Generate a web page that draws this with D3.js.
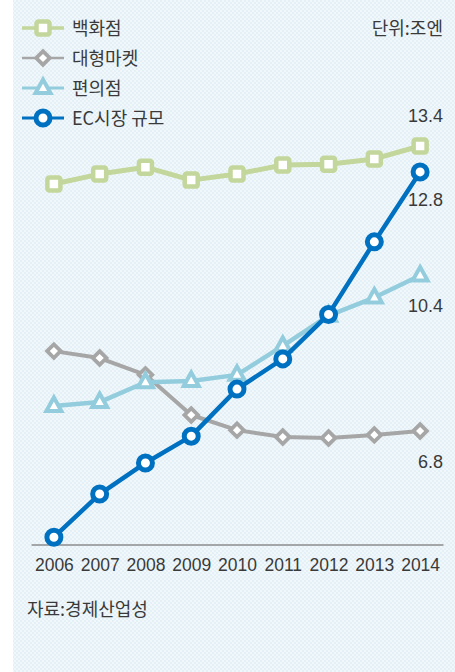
<!DOCTYPE html>
<html>
<head>
<meta charset="utf-8">
<script src="https://cdn.jsdelivr.net/npm/d3@7"></script>
<style>
  body { margin: 0; background: #fff; }
  text { font-family: "Noto Sans CJK KR", sans-serif; fill: #3a3a3a; }
  .num { font-family: "Liberation Sans", Arial, sans-serif; }
</style>
</head>
<body>
<div id="chart"></div>
<script>
// Data (조엔)
var years      = ['2006', '2007', '2008', '2009', '2010', '2011', '2012', '2013', '2014'];
var dept       = [12.52, 12.75, 12.91, 12.61, 12.75, 12.96, 12.98, 13.10, 13.4];
var mart       = [8.65, 8.49, 8.10, 7.17, 6.82, 6.66, 6.64, 6.71, 6.8];
var conv       = [7.38, 7.47, 7.93, 7.96, 8.10, 8.77, 9.47, 9.89, 10.4];
var ec         = [4.34, 5.34, 6.06, 6.68, 7.77, 8.47, 9.50, 11.18, 12.8];
var names      = ['백화점', '대형마켓', '편의점', 'EC시장 규모'];
var end_labels = ['13.4', '6.8', '10.4', '12.8'];

var chart_width  = 455;
var chart_height = 672;

var series = [
	{ name: names[0], values: dept, color: '#c3d69b', width: 5,   shape: 'square',   label: end_labels[0], ly: 122 },
	{ name: names[1], values: mart, color: '#a6a6a6', width: 4,   shape: 'diamond',  label: end_labels[1], ly: 468 },
	{ name: names[2], values: conv, color: '#93cddd', width: 4.5, shape: 'triangle', label: end_labels[2], ly: 312 },
	{ name: names[3], values: ec,   color: '#0070c0', width: 4.5, shape: 'circle',   label: end_labels[3], ly: 206 }
];

var svg = d3.select('#chart')
		.append('svg')
		.attr('width', chart_width)
		.attr('height', chart_height);

// background pattern
var pat = svg.append('defs')
		.append('pattern')
		.attr('id', 'bg')
		.attr('width', 4)
		.attr('height', 4)
		.attr('patternUnits', 'userSpaceOnUse');
pat.append('rect').attr('width', 4).attr('height', 4).attr('fill', '#f1f8fb');
pat.append('rect').attr('width', 2).attr('height', 2).attr('fill', '#e4f0f6');
pat.append('rect').attr('x', 2).attr('y', 2).attr('width', 2).attr('height', 2).attr('fill', '#e4f0f6');

svg.append('rect')
		.attr('x', 13)
		.attr('y', 0)
		.attr('width', chart_width - 13)
		.attr('height', chart_height)
		.attr('fill', 'url(#bg)');

// Scales
var x_scale = d3.scalePoint()
		.domain(years)
		.range([31, 443])
		.padding(0.5);

var y_scale = d3.scaleLinear()
		.domain([4, 14])
		.range([551.9, 120.1]);

// Axis
var x_axis = d3.axisBottom(x_scale)
		.tickSize(0)
		.tickSizeOuter(0)
		.tickPadding(14);

var ax = svg.append('g')
		.attr('transform', 'translate(0,544.5)')
		.call(x_axis);
ax.select('.domain')
		.attr('stroke', '#8c8c8c')
		.attr('stroke-width', 1.6);
ax.selectAll('text')
		.attr('class', 'num')
		.attr('font-size', 17.5)
		.attr('fill', '#3a3a3a');

// marker drawing
function marker(g, shape, color) {
	if (shape === 'square') {
		g.append('rect')
			.attr('x', -6.5).attr('y', -6.5)
			.attr('width', 13).attr('height', 13)
			.attr('rx', 2)
			.attr('fill', '#fff')
			.attr('stroke', color)
			.attr('stroke-width', 4.5);
	} else if (shape === 'diamond') {
		g.append('rect')
			.attr('x', -4.8).attr('y', -4.8)
			.attr('width', 9.6).attr('height', 9.6)
			.attr('transform', 'rotate(45)')
			.attr('fill', '#fff')
			.attr('stroke', color)
			.attr('stroke-width', 3.8);
	} else if (shape === 'triangle') {
		g.append('path')
			.attr('d', 'M0,-8.5L7.5,5L-7.5,5Z')
			.attr('fill', '#fff')
			.attr('stroke', color)
			.attr('stroke-width', 4)
			.attr('stroke-linejoin', 'miter');
	} else {
		g.append('circle')
			.attr('r', 7)
			.attr('fill', '#fff')
			.attr('stroke', color)
			.attr('stroke-width', 5);
	}
}

var line = d3.line()
		.x(function(d, i){ return x_scale(years[i]); })
		.y(function(d){ return y_scale(d); });

// Lines and markers
series.forEach(function(s){
	svg.append('path')
		.datum(s.values)
		.attr('d', line)
		.attr('fill', 'none')
		.attr('stroke', s.color)
		.attr('stroke-width', s.width)
		.attr('stroke-linejoin', 'round');

	svg.selectAll(null)
		.data(s.values)
		.enter()
		.append('g')
		.attr('transform', function(d, i){
			return 'translate(' + x_scale(years[i]) + ',' + y_scale(d) + ')';
		})
		.each(function(){ marker(d3.select(this), s.shape, s.color); });

	svg.append('text')
		.attr('class', 'num')
		.attr('x', 443)
		.attr('y', s.ly)
		.attr('text-anchor', 'end')
		.attr('font-size', 18)
		.text(s.label);
});

// Legend
var legend = svg.selectAll('.legend')
		.data(series)
		.enter()
		.append('g')
		.attr('class', 'legend')
		.attr('transform', function(d, i){
			return 'translate(0,' + (28 + i * 30) + ')';
		});

legend.append('line')
		.attr('x1', 22).attr('x2', 64)
		.attr('stroke', function(d){ return d.color; })
		.attr('stroke-width', function(d){ return d.width - 1.5; });

legend.append('g')
		.attr('transform', 'translate(43,0)')
		.each(function(d){ marker(d3.select(this), d.shape, d.color); });

legend.append('text')
		.attr('x', 72)
		.attr('y', 6.5)
		.attr('font-size', 18)
		.text(function(d){ return d.name; });

// Unit, source
svg.append('text')
		.attr('x', 443)
		.attr('y', 34.5)
		.attr('text-anchor', 'end')
		.attr('font-size', 18)
		.text('단위:조엔');

svg.append('text')
		.attr('x', 27)
		.attr('y', 615.5)
		.attr('font-size', 18)
		.text('자료:경제산업성');
</script>
</body>
</html>
